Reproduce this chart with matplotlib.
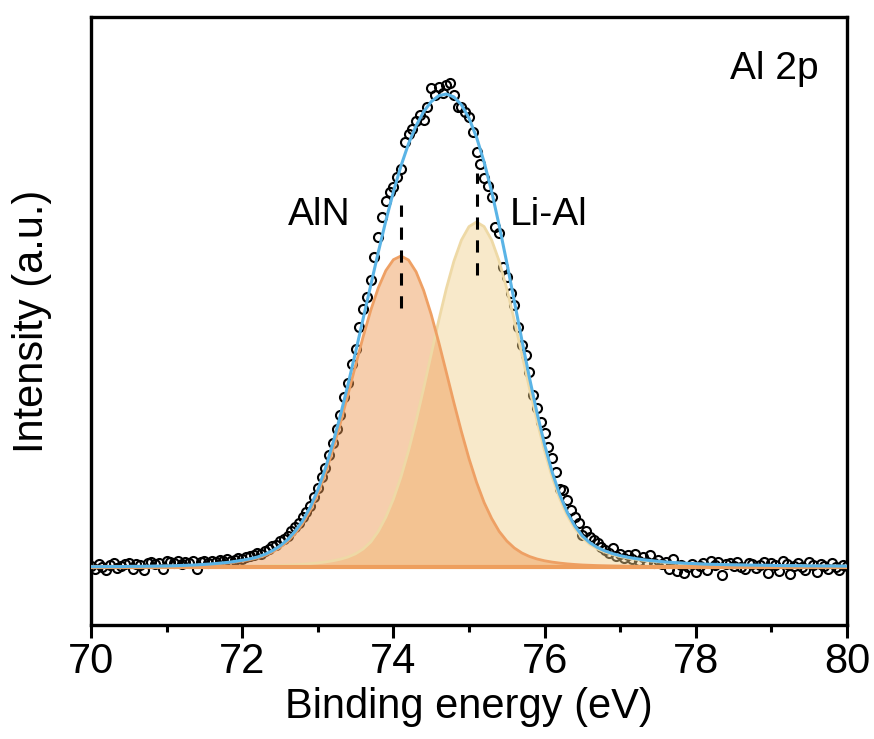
import matplotlib.pyplot as plt
import numpy as np

plt.rcParams['font.family'] = ['Liberation Sans', 'DejaVu Sans']

# measured Al 2p spectrum, 70.00 -> 80.00 eV in 0.05 eV steps (baseline-subtracted, a.u.)
raw_start, raw_step = 70.0, 0.05
raw_counts = [
    1, -2, 3, 0, -3, 2, 4, -1, 1, 3, 4, -2, 3, 2, -3, 4, 5, 3, 4, -2,
    6, 5, 4, 6, 3, 5, 4, 6, -2, 5, 6, 4, 6, 5, 7, 6, 8, 6, 7, 9,
    8, 10, 11, 12, 14, 13, 16, 18, 21, 22, 26, 28, 31, 36, 40, 44, 50, 55, 61, 70,
    79, 90, 99, 112, 124, 138, 152, 170, 184, 203, 218, 240, 258, 270, 287, 310, 330, 350, 366, 375,
    380, 390, 398, 425, 433, 438, 446, 452, 447, 460, 479, 472, 480, 474, 482, 484, 472, 460, 460, 455,
    450, 435, 415, 403, 389, 381, 370, 340, 334, 300, 290, 274, 262, 240, 222, 212, 195, 172, 159, 145,
    134, 120, 109, 95, 78, 77, 67, 57, 50, 44, 32, 36, 30, 27, 24, 20, 17, 14, 19, 11,
    13, 9, 12, 8, 13, 6, 10, 5, 12, 4, 7, 3, 5, -2, 8, -4, 2, -6, 0, 3,
    -5, 1, 4, -3, 6, 2, 5, -8, 3, 4, 1, 5, 0, -2, 4, 3, -1, 2, 5, -6,
    4, 2, -4, 6, 3, -7, 1, 4, 0, -3, 5, 2, -5, 3, 1, -2, 4, 0, -3, 2,
    1,
]

# fitted components, 70.0 -> 80.0 eV in 0.1 eV steps
fit_start, fit_step = 70.0, 0.1
aln_fit = [
    0.2, 0.2, 0.3, 0.3, 0.3, 0.4, 0.4, 0.5, 0.6, 0.7,
    0.8, 1.0, 1.2, 1.5, 1.8, 2.2, 2.7, 3.3, 4.0, 4.9,
    6.0, 7.3, 9.0, 11.5, 15.0, 19.5, 25.5, 33.5, 43.5, 56.5,
    73.0, 93.5, 117.5, 144.1, 172.6, 201.8, 230.3, 256.6, 279.1, 296.4,
    307.3, 311.0, 307.0, 295.2, 276.6, 252.6, 224.7, 194.7, 164.4, 135.3,
    108.4, 84.7, 64.5, 48.5, 35.5, 26.0, 19.0, 14.0, 10.5, 8.0,
    6.2, 4.9, 3.9, 3.1, 2.5, 2.0, 1.7, 1.4, 1.2, 1.0,
    0.9, 0.8, 0.7, 0.6, 0.5, 0.5, 0.4, 0.4, 0.3, 0.3,
    0.3, 0.2, 0.2, 0.2, 0.2, 0.2, 0.2, 0.2, 0.2, 0.2,
    0.2, 0.1, 0.1, 0.1, 0.1, 0.1, 0.1, 0.1, 0.1, 0.1,
    0.1,
]
lial_fit = [
    0.1, 0.1, 0.1, 0.1, 0.1, 0.2, 0.2, 0.2, 0.2, 0.2,
    0.2, 0.2, 0.3, 0.3, 0.3, 0.4, 0.4, 0.5, 0.5, 0.6,
    0.7, 0.8, 0.9, 1.1, 1.3, 1.5, 1.8, 2.2, 2.7, 3.3,
    4.0, 5.0, 6.2, 7.8, 10.0, 13.2, 18.0, 25.0, 35.6, 49.8,
    67.9, 90.0, 116.2, 146.0, 178.6, 212.7, 246.6, 278.3, 305.7, 326.9,
    340.4, 345.0, 340.4, 326.9, 305.7, 278.3, 246.6, 212.7, 178.6, 146.0,
    116.2, 90.0, 68.5, 51.5, 38.5, 29.0, 22.5, 18.0, 14.8, 12.3,
    10.4, 8.9, 7.7, 6.7, 5.9, 5.2, 4.6, 4.1, 3.7, 3.3,
    3.0, 2.7, 2.5, 2.3, 2.1, 1.9, 1.8, 1.7, 1.6, 1.5,
    1.4, 1.3, 1.2, 1.2, 1.1, 1.0, 1.0, 0.9, 0.9, 0.8,
    0.8,
]
peak_names = ["AlN", "Li-Al"]
peak_centers = [74.1, 75.1]

be_raw = raw_start + raw_step * np.arange(len(raw_counts))
be_fit = fit_start + fit_step * np.arange(len(aln_fit))
aln = np.array(aln_fit)
lial = np.array(lial_fit)
envelope = aln + lial
base = np.zeros_like(be_fit)

fig = plt.figure(figsize=(8.74, 7.39), dpi=100)
ax = fig.add_axes([0.1041, 0.1543, 0.8650, 0.8227])

# raw data first, fills are semi transparent on top of it
ax.plot(be_raw, raw_counts, 'o', mfc='none', mec='black', ms=6.5, mew=1.5, zorder=1)

ax.fill_between(be_fit, base, lial, color='#F0CF8A', alpha=0.45, lw=0, zorder=2)
ax.fill_between(be_fit, base, aln, color='#EE9A55', alpha=0.48, lw=0, zorder=2)
ax.plot(be_fit, lial, color='#EED9A6', lw=2, zorder=3)
ax.plot(be_fit, aln, color='#EEA064', lw=2, zorder=3)
ax.plot(be_fit, base, color='#EE9F5E', lw=3, zorder=3)
ax.plot(be_fit, envelope, color='#5AB4E6', lw=2.2, zorder=4)

# peak position markers
ax.plot([peak_centers[0]] * 2, [259, 362], color='black', lw=2.2, ls=(0, (4, 3.5)), zorder=5)
ax.plot([peak_centers[1]] * 2, [292, 394], color='black', lw=2.2, ls=(0, (4, 3.5)), zorder=5)
ax.text(73.02, 352, peak_names[0], fontsize=28, ha='center', va='center')
ax.text(76.05, 352, peak_names[1], fontsize=28, ha='center', va='center')
ax.text(79.63, 498, "Al 2p", fontsize=28, ha='right', va='center')

ax.set_xlim(70, 80)
ax.set_ylim(-58, 550)
ax.set_xticks([70, 72, 74, 76, 78, 80])
ax.set_xticks([71, 73, 75, 77, 79], minor=True)
ax.set_yticks([])
ax.tick_params(axis='x', which='major', direction='out', length=9, width=2.2, labelsize=30, pad=3)
ax.tick_params(axis='x', which='minor', direction='out', length=5, width=2.2)
for s in ax.spines.values():
    s.set_linewidth(2.4)
ax.set_xlabel("Binding energy (eV)", fontsize=30, labelpad=4)
ax.set_ylabel("Intensity (a.u.)", fontsize=30, labelpad=28)

fig.savefig("out.png", dpi=100)
